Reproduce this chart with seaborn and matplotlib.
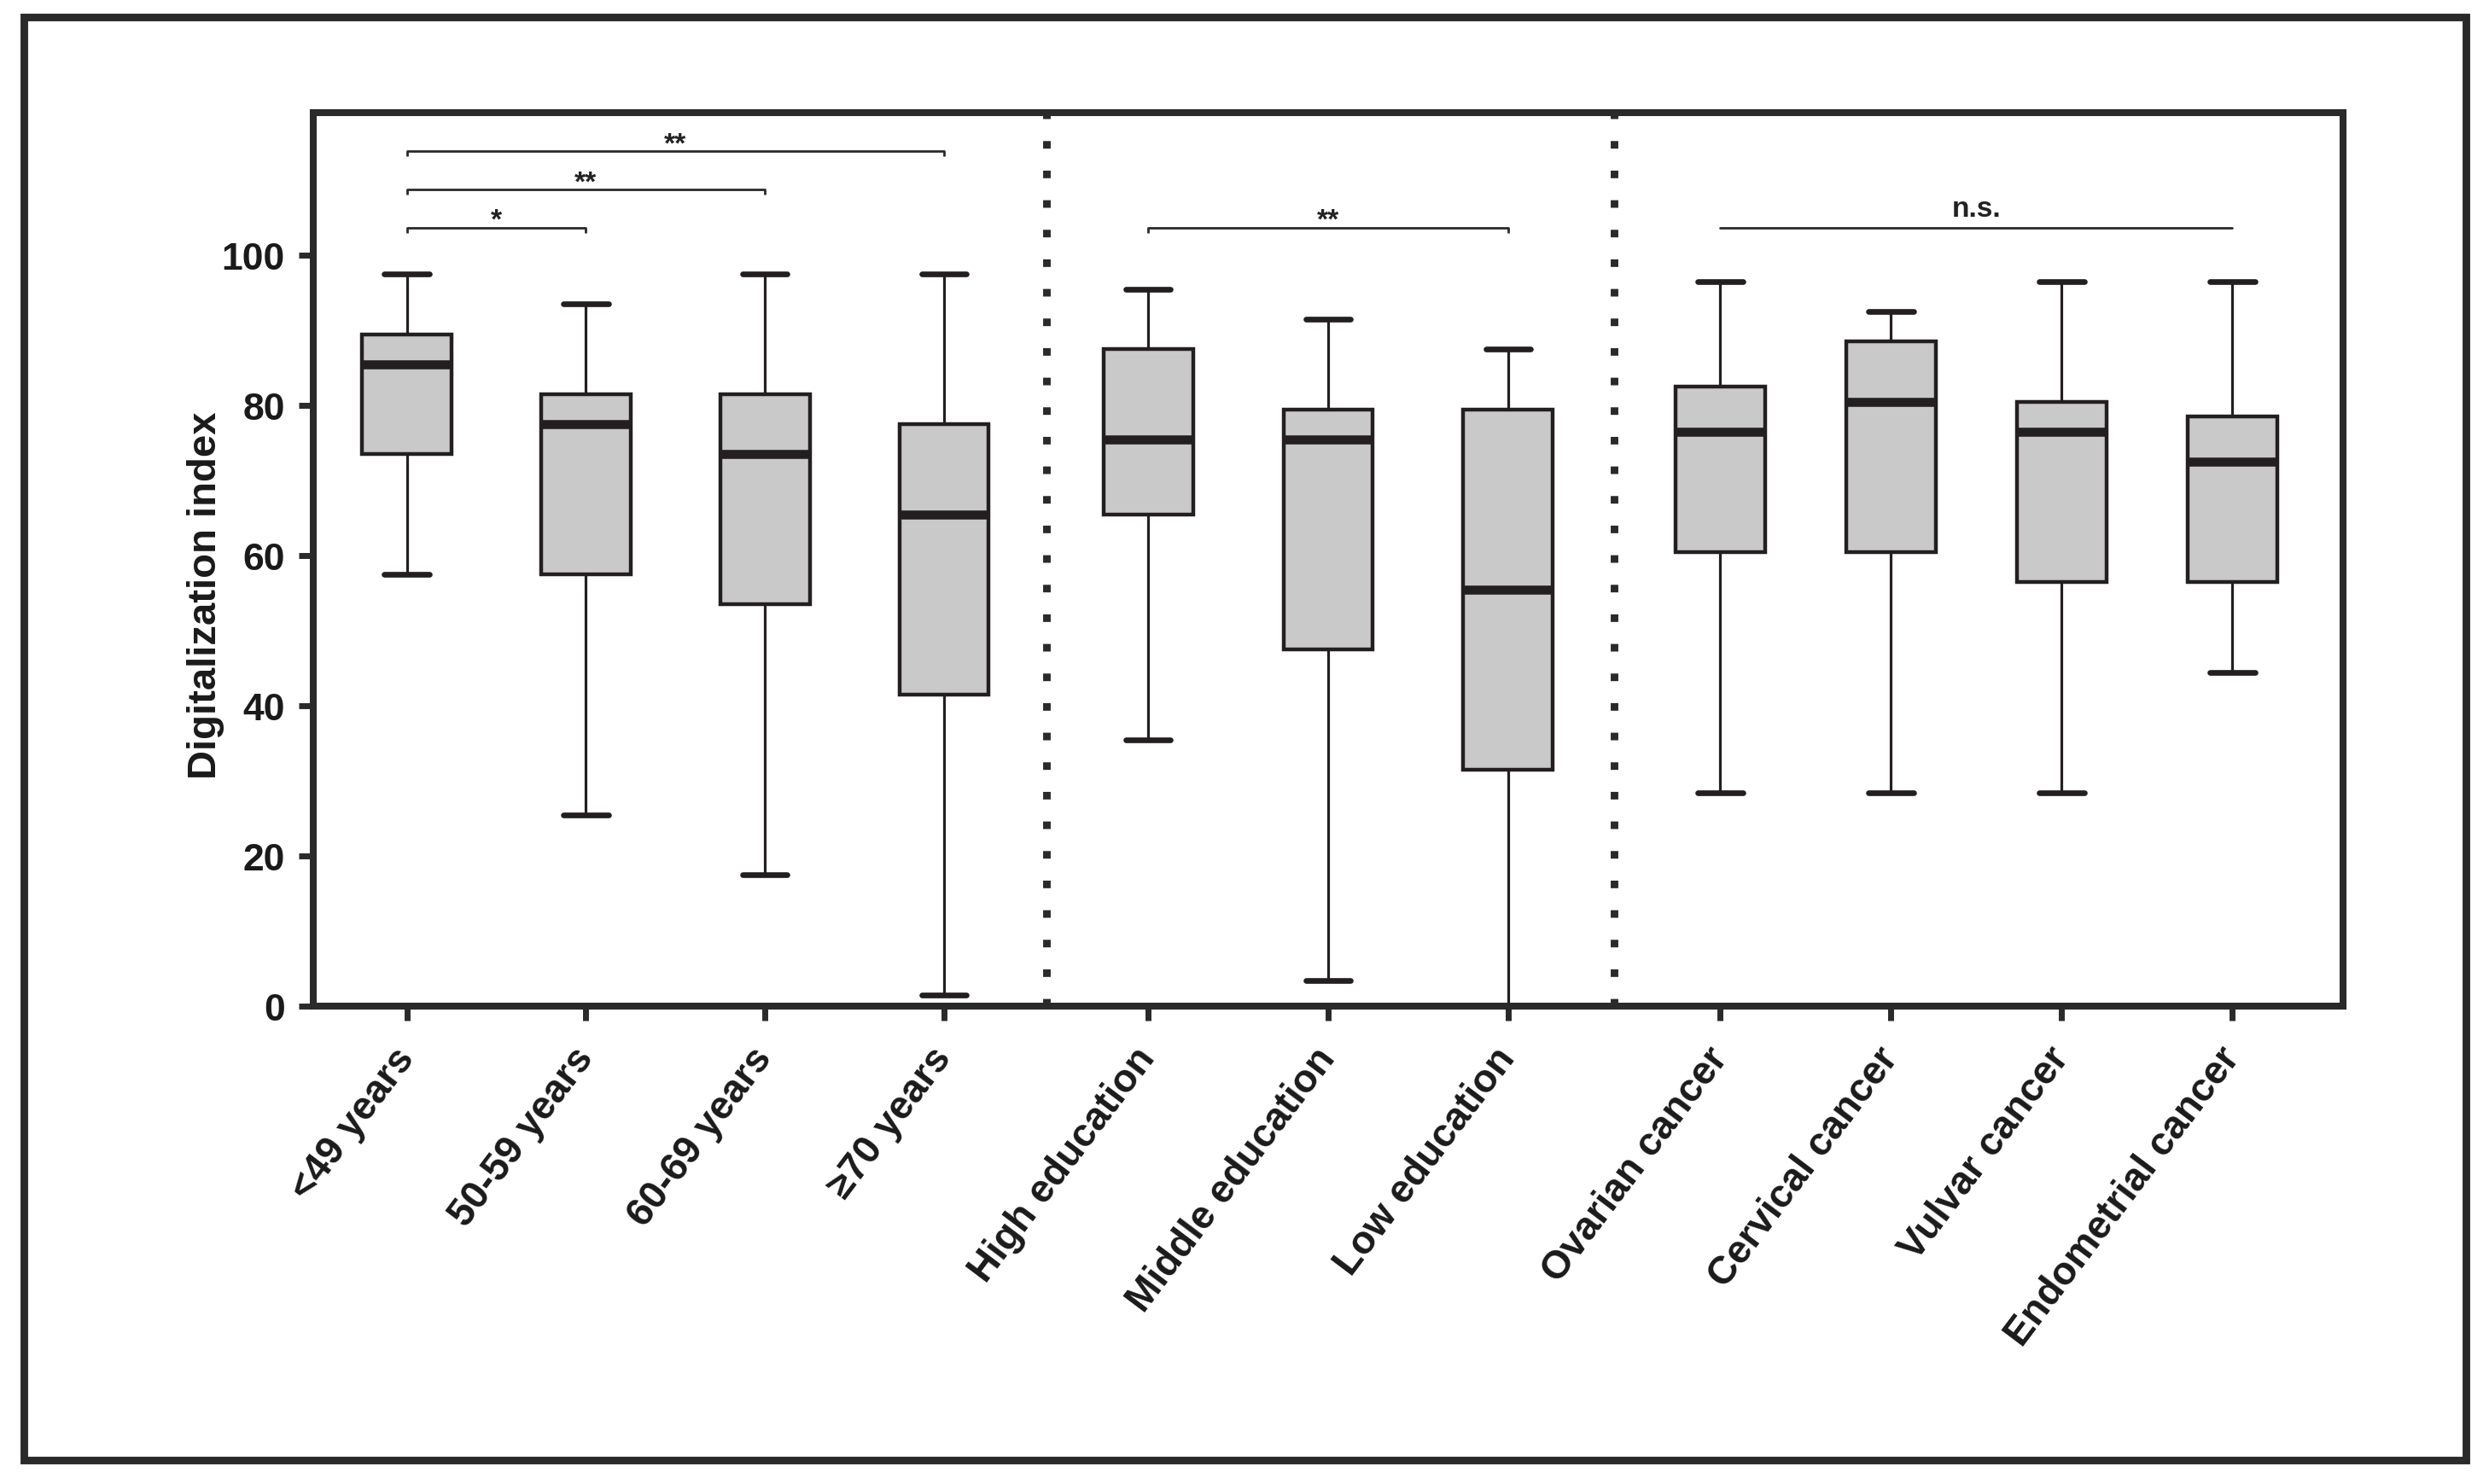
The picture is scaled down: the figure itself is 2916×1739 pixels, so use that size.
import numpy as np
import pandas as pd
import matplotlib
matplotlib.use("Agg")
import matplotlib.pyplot as plt
from matplotlib.patches import Rectangle
import seaborn as sns

# ---------------- data ----------------
categories = ["<49 years", "50-59 years", "60-69 years", "\u226570 years",
              "High education", "Middle education", "Low education",
              "Ovarian cancer", "Cervical cancer", "Vulvar cancer", "Endometrial cancer"]
whisker_low = [57.5, 25.5, 17.5, 1.5, 35.5, 3.5, 0.0, 28.5, 28.5, 28.5, 44.5]
q1          = [73.5, 57.5, 53.5, 41.5, 65.5, 47.5, 31.5, 60.5, 60.5, 56.5, 56.5]
median      = [85.5, 77.5, 73.5, 65.5, 75.5, 75.5, 55.5, 76.5, 80.5, 76.5, 72.5]
q3          = [89.5, 81.5, 81.5, 77.5, 87.5, 79.5, 79.5, 82.5, 88.5, 80.5, 78.5]
whisker_high = [97.5, 93.5, 97.5, 97.5, 95.5, 91.5, 87.5, 96.5, 92.5, 96.5, 96.5]

# significance annotations: (first category index, last category index, label, bracket ends)
comparisons = [(0, 1, "*", True), (0, 2, "**", True), (0, 3, "**", True),
               (4, 6, "**", True), (7, 10, "n.s.", False)]
comparison_levels = [103.7, 108.8, 113.9, 103.7, 103.7]

# ---------------- layout ----------------
x_positions = [0, 1, 2, 3, 4.14, 5.145, 6.15, 7.335, 8.288, 9.241, 10.195]
group_breaks = [(3, 4), (6, 7)]

# long-form table: the five-number summary of each category
rows = []
for pos, lo, a, m, b, hi in zip(x_positions, whisker_low, q1, median, q3, whisker_high):
    for v in (lo, a, m, b, hi):
        rows.append({"pos": pos, "value": v})
df = pd.DataFrame(rows)

sns.set_style("ticks")
plt.rcParams["font.family"] = ["Liberation Sans", "DejaVu Sans"]
plt.rcParams["font.weight"] = "bold"

fig = plt.figure(figsize=(14.58, 8.70), dpi=200)
ax = fig.add_axes([0.1259, 0.3216, 0.8155, 0.6020])

line_col = "#231f20"
box_width = 0.5 / np.min(np.diff(x_positions))

sns.boxplot(data=df, x="pos", y="value", native_scale=True, ax=ax,
            width=box_width, whis=(0, 100), showfliers=False, saturation=1,
            color="#c8c9c8", linecolor=line_col, linewidth=1.6,
            boxprops=dict(facecolor="#c8c9c8", edgecolor=line_col, linewidth=1.6),
            medianprops=dict(color=line_col, linewidth=3.8),
            whiskerprops=dict(color=line_col, linewidth=1.15),
            capprops=dict(color=line_col, linewidth=2.4))

# group separators
for a, b in group_breaks:
    ax.axvline((x_positions[a] + x_positions[b]) / 2, color="#2a2a2a",
               linewidth=3.2, linestyle=(0, (1, 2.9)), dash_capstyle="butt", zorder=1)

# significance brackets
for (i, j, lab, ends), lvl in zip(comparisons, comparison_levels):
    x0, x1 = x_positions[i], x_positions[j]
    if ends:
        ax.plot([x0, x0, x1, x1], [lvl - 0.75, lvl, lvl, lvl - 0.75],
                color="#2a2a2a", linewidth=1.0, solid_capstyle="butt")
    else:
        ax.plot([x0, x1], [lvl, lvl], color="#2a2a2a", linewidth=1.0)
    if lab.startswith("*"):
        ax.text((x0 + x1) / 2, lvl - 0.05, lab, ha="center", va="baseline",
                fontsize=12, fontweight="bold", color="#222222")
    else:
        ax.text((x0 + x1) / 2, lvl + 1.5, lab, ha="center", va="baseline",
                fontsize=12, fontweight="bold", color="#222222")

ax.set_xlim(-0.522, 10.813)
ax.set_ylim(0, 119)
ax.set_yticks([0, 20, 40, 60, 80, 100])
ax.set_xticks(x_positions)
ax.set_xticklabels(categories, rotation=53, ha="right", va="center",
                   rotation_mode="anchor", fontsize=16.5, fontweight="bold",
                   color="#1a1a1a")
for t in ax.get_yticklabels():
    t.set_fontsize(16)
    t.set_fontweight("bold")
    t.set_color("#1a1a1a")

ax.tick_params(axis="both", direction="out", length=6, width=2.5, color="#2a2a2a")
ax.tick_params(axis="x", pad=13)
ax.tick_params(axis="y", pad=6)

ax.set_xlabel("")
ax.set_ylabel("Digitalization index", fontsize=17, fontweight="bold",
              color="#1a1a1a", va="center")
ax.yaxis.set_label_coords(-0.0531, 0.4606)

for s in ax.spines.values():
    s.set_visible(True)
    s.set_linewidth(2.9)
    s.set_color("#2a2a2a")

# outer frame
fig.add_artist(Rectangle((28 / 2916, 1 - 1712 / 1740), (2889 - 28) / 2916,
                         (1712 - 21) / 1740, transform=fig.transFigure,
                         fill=False, linewidth=3.2, edgecolor="#2a2a2a"))

fig.savefig("out.png", dpi=200, facecolor="white")
